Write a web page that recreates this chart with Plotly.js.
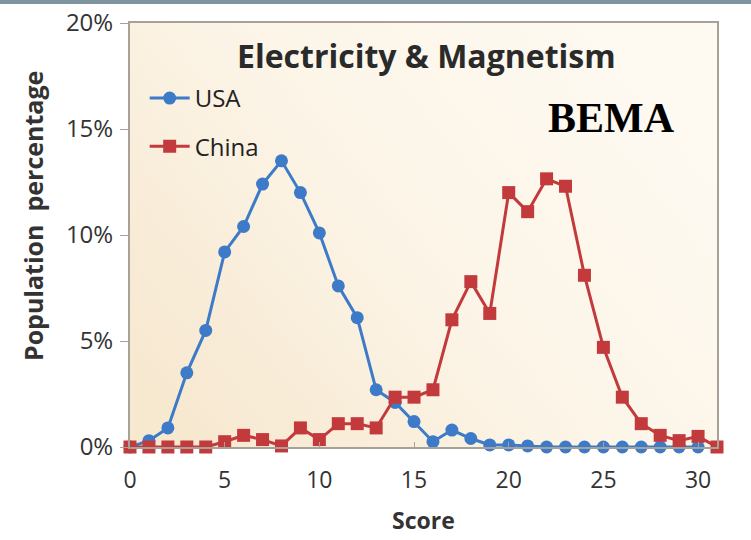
<!DOCTYPE html>
<html>
<head>
<meta charset="utf-8">
<script src="https://cdn.plot.ly/plotly-3.0.1.min.js"></script>
<style>
html,body{margin:0;padding:0;background:#fff;}
#chart{width:751px;height:540px;}
</style>
</head>
<body>
<div id="chart"></div>
<script>
// Data
const scoresUSA = [0,1,2,3,4,5,6,7,8,9,10,11,12,13,14,15,16,17,18,19,20,21,22,23,24,25,26,27,28,29,30];
const usaPct = [0,0.3,0.9,3.5,5.5,9.2,10.4,12.4,13.5,12.0,10.1,7.6,6.1,2.7,2.1,1.2,0.25,0.8,0.4,0.1,0.1,0.05,0,0,0,0,0,0,0,0,0];
const scoresChina = [0,1,2,3,4,5,6,7,8,9,10,11,12,13,14,15,16,17,18,19,20,21,22,23,24,25,26,27,28,29,30,31];
const chinaPct = [0,0,0,0,0,0.25,0.55,0.35,0.05,0.9,0.35,1.1,1.1,0.9,2.35,2.35,2.7,6.0,7.8,6.3,12.0,11.1,12.65,12.3,8.1,4.7,2.35,1.1,0.55,0.3,0.5,0.0];
const yTickVals = [0,5,10,15,20];
const yTickText = ['0%','5%','10%','15%','20%'];
const xTickVals = [0,5,10,15,20,25,30];
const chartTitle = 'Electricity &amp; Magnetism';
const yTitle = 'Population  percentage';
const xTitle = 'Score';
const tagText = 'BEMA';

const blue = '#3d7bc8';
const red = '#c33a3c';
const font = '"Open Sans", "Noto Sans", sans-serif';

const gradSvg = '<svg xmlns="http://www.w3.org/2000/svg" width="100" height="100" preserveAspectRatio="none">' +
  '<defs><linearGradient id="g" x1="0" y1="0.8" x2="1" y2="0.2">' +
  '<stop offset="0" stop-color="#f7e8d0"/><stop offset="0.5" stop-color="#fcf5e8"/><stop offset="1" stop-color="#fefaf2"/>' +
  '</linearGradient></defs><rect width="100" height="100" fill="url(#g)"/></svg>';
const gradSrc = 'data:image/svg+xml;charset=utf-8,' + encodeURIComponent(gradSvg);

const traces = [
  {x: scoresUSA, y: usaPct, name: 'USA', legendgroup: 'a', type: 'scatter', mode: 'lines+markers',
   line: {color: blue, width: 3}, marker: {color: blue, size: 13, symbol: 'circle'}, cliponaxis: false},
  {x: scoresChina, y: chinaPct, name: 'China', legendgroup: 'b', type: 'scatter', mode: 'lines+markers',
   line: {color: red, width: 3}, marker: {color: red, size: 13, symbol: 'square'}, cliponaxis: false}
];

const layout = {
  width: 751, height: 540,
  margin: {l: 130, r: 34, t: 23, b: 93, pad: 0},
  paper_bgcolor: '#ffffff',
  plot_bgcolor: 'rgba(0,0,0,0)',
  font: {family: font, color: '#333333'},
  showlegend: true,
  legend: {x: 0.025, y: 0.875, xanchor: 'left', yanchor: 'top', bgcolor: 'rgba(0,0,0,0)',
           font: {size: 24, color: '#222222', family: font}, itemwidth: 40, tracegroupgap: 14,
           traceorder: 'grouped'},
  xaxis: {range: [0, 31], tickvals: xTickVals, ticks: 'inside', ticklen: 5, tickcolor: '#a8a198',
          showline: true, linecolor: '#a8a198', linewidth: 2, mirror: true, showgrid: false, zeroline: false,
          tickfont: {size: 23, color: '#333333'}, ticklabelstandoff: 11},
  yaxis: {range: [0, 20], tickvals: yTickVals, ticktext: yTickText, ticks: 'outside', ticklen: 8, tickcolor: '#a8a198',
          showline: true, linecolor: '#a8a198', linewidth: 2, mirror: true, showgrid: false, zeroline: false,
          tickfont: {size: 24, color: '#333333'}, ticklabelstandoff: 2},
  images: [{source: gradSrc, xref: 'paper', yref: 'paper', x: 0, y: 1, sizex: 1, sizey: 1,
            xanchor: 'left', yanchor: 'top', sizing: 'stretch', layer: 'below'}],
  shapes: [{type: 'rect', xref: 'paper', yref: 'paper', x0: -0.3, x1: 1.1, y0: 1.045, y1: 1.07,
            fillcolor: '#7f939e', line: {width: 0}}],
  annotations: [
    {text: '<b>' + chartTitle + '</b>', xref: 'paper', yref: 'paper', x: 0.505, y: 0.923,
     xanchor: 'center', yanchor: 'middle', showarrow: false, font: {size: 32, color: '#2a2a2a', family: font}},
    {text: '<b>' + tagText + '</b>', xref: 'paper', yref: 'paper', x: 0.82, y: 0.776,
     xanchor: 'center', yanchor: 'middle', showarrow: false,
     font: {size: 42, color: '#000000', family: '"Liberation Serif", "Times New Roman", serif'}},
    {text: '<b>' + yTitle + '</b>', xref: 'paper', yref: 'paper', x: -0.165, y: 0.545, textangle: -90,
     xanchor: 'center', yanchor: 'middle', showarrow: false, font: {size: 25, color: '#333333', family: font}},
    {text: '<b>' + xTitle + '</b>', xref: 'paper', yref: 'paper', x: 0.5, y: -0.172,
     xanchor: 'center', yanchor: 'middle', showarrow: false, font: {size: 23, color: '#333333', family: font}}
  ]
};

Plotly.newPlot('chart', traces, layout, {displayModeBar: false, staticPlot: true});
</script>
</body>
</html>
